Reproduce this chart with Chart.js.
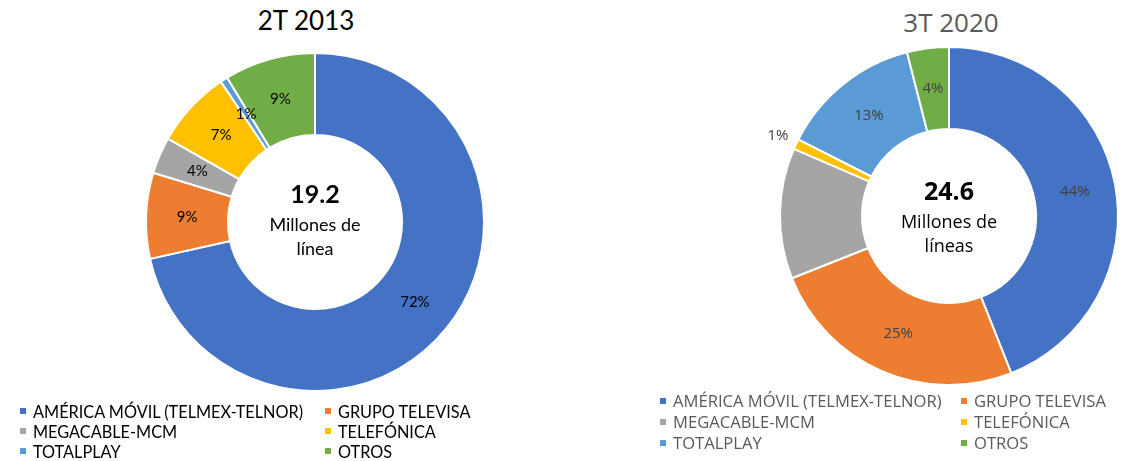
<!DOCTYPE html>
<html>
<head>
<meta charset="utf-8">
<script src="https://cdn.jsdelivr.net/npm/chart.js@4/dist/chart.umd.min.js"></script>
<style>
  body { margin: 0; background: #fff; width: 1134px; height: 461px; position: relative; overflow: hidden; }
  canvas { position: absolute; }
  .title { position: absolute; font-size: 26px; text-align: center; width: 300px; }
  .legend { position: absolute; }
  .legend .row { display: flex; }
  .legend .item { display: flex; align-items: center; white-space: nowrap; }
  .legend .box { width: 6px; height: 6px; margin-right: 7px; }
</style>
</head>
<body>
<div class="title" id="title1" style="left:156px; top:4px; font-family:Lato; color:#000;"></div>
<div class="title" id="title2" style="left:801px; top:4px; font-family:'Open Sans'; color:#595959;"></div>
<canvas id="chart1" width="400" height="400" style="left:115px; top:22px;"></canvas>
<canvas id="chart2" width="400" height="400" style="left:749px; top:16px;"></canvas>
<div class="legend" id="legend1" style="left:20px; top:401px; font-family:Lato; font-size:16.3px; color:#000;"></div>
<div class="legend" id="legend2" style="left:660px; top:390px; font-family:'Open Sans'; font-size:16.6px; color:#595959;"></div>
<script>
const categories = ['AMÉRICA MÓVIL (TELMEX-TELNOR)', 'GRUPO TELEVISA', 'MEGACABLE-MCM', 'TELEFÓNICA', 'TOTALPLAY', 'OTROS'];
const colors = ['#4472C4', '#ED7D31', '#A5A5A5', '#FFC000', '#5B9BD5', '#70AD47'];

const titles = ['2T 2013', '3T 2020'];
const values2013 = [71.5, 8.2, 3.5, 7.4, 0.7, 8.7];
const values2020 = [44, 25, 12.5, 1, 13.5, 4];
const pctLabels2013 = ['72%', '9%', '4%', '7%', '1%', '9%'];
const pctLabels2020 = ['44%', '25%', '', '1%', '13%', '4%'];
const totals = ['19.2', '24.6'];
const centerLines2013 = ['Millones de', 'línea'];
const centerLines2020 = ['Millones de', 'líneas'];

document.getElementById('title1').textContent = titles[0];
document.getElementById('title2').textContent = titles[1];

// etiquetas de porcentaje y texto central
const doughnutText = {
    id: 'doughnutText',
    afterDatasetsDraw(chart, args, opts) {
        const ctx = chart.ctx;
        const meta = chart.getDatasetMeta(0);
        ctx.save();
        ctx.textAlign = 'center';
        ctx.textBaseline = 'middle';
        ctx.font = '15px ' + opts.font;
        ctx.fillStyle = opts.labelColor;
        meta.data.forEach(function(arc, i) {
            const txt = opts.labels[i];
            if (!txt) return;
            let pos;
            if (opts.outside.indexOf(i) >= 0) {
                const p = arc.getProps(['x', 'y', 'startAngle', 'endAngle', 'outerRadius'], true);
                const a = (p.startAngle + p.endAngle) / 2;
                pos = { x: p.x + Math.cos(a) * (p.outerRadius + 20), y: p.y + Math.sin(a) * (p.outerRadius + 20) };
            } else {
                pos = arc.tooltipPosition(true);
            }
            ctx.fillText(txt, pos.x, pos.y);
        });
        const arc0 = meta.data[0];
        const cx = arc0.x, cy = arc0.y;
        ctx.fillStyle = '#000';
        ctx.font = 'bold 25px ' + opts.font;
        ctx.fillText(opts.total, cx, cy + opts.centerY[0]);
        ctx.font = '18px ' + opts.font;
        ctx.fillText(opts.lines[0], cx, cy + opts.centerY[1]);
        ctx.fillText(opts.lines[1], cx, cy + opts.centerY[2]);
        ctx.restore();
    }
};

function makeChart(id, values, labels, total, lines, font, labelColor, outside, centerY) {
    return new Chart(document.getElementById(id).getContext('2d'), {
        type: 'doughnut',
        data: {
            labels: categories,
            datasets: [{
                data: values,
                backgroundColor: colors,
                borderColor: '#fff',
                borderWidth: 2
            }]
        },
        options: {
            responsive: false,
            animation: false,
            cutout: '51.5%',
            layout: { padding: 30 },
            plugins: {
                legend: { display: false },
                tooltip: { enabled: false },
                doughnutText: {
                    labels: labels,
                    total: total,
                    lines: lines,
                    font: font,
                    labelColor: labelColor,
                    outside: outside,
                    centerY: centerY
                }
            }
        },
        plugins: [doughnutText]
    });
}

makeChart('chart1', values2013, pctLabels2013, totals[0], centerLines2013, 'Lato', '#000', [], [-27, 3, 27]);
makeChart('chart2', values2020, pctLabels2020, totals[1], centerLines2020, "'Open Sans'", '#404040', [3], [-23, 7, 31]);

function buildLegend(id, colWidth, rowHeight) {
    const el = document.getElementById(id);
    for (let r = 0; r < 3; r++) {
        const row = document.createElement('div');
        row.className = 'row';
        row.style.height = rowHeight + 'px';
        for (let c = 0; c < 2; c++) {
            const i = r * 2 + c;
            const item = document.createElement('div');
            item.className = 'item';
            if (c == 0) item.style.width = colWidth + 'px';
            const box = document.createElement('span');
            box.className = 'box';
            box.style.background = colors[i];
            item.appendChild(box);
            item.appendChild(document.createTextNode(categories[i]));
            row.appendChild(item);
        }
        el.appendChild(row);
    }
}
buildLegend('legend1', 305, 20);
buildLegend('legend2', 301, 21);
</script>
</body>
</html>
